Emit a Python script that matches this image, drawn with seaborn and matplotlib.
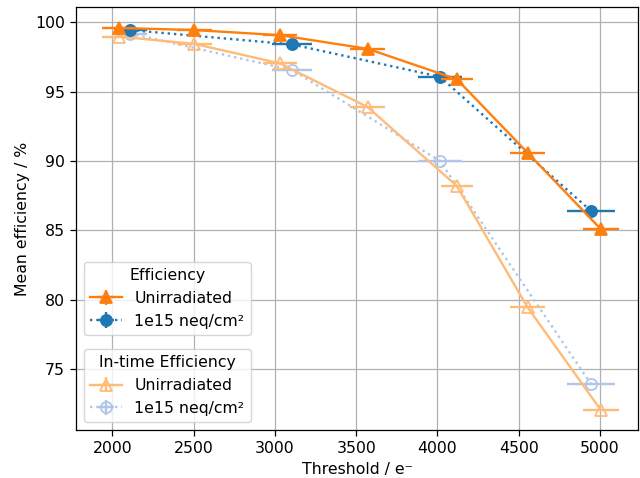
import numpy as np
import pandas as pd
import matplotlib
matplotlib.use("Agg")
import matplotlib.pyplot as plt
import seaborn as sns

# ---- data ----
thr_unirr = [2040, 2505, 3030, 3570, 4120, 4555, 5005]
thr_unirr_err = [105, 105, 103, 105, 100, 110, 110]
eff_unirr = [99.6, 99.45, 99.08, 98.1, 95.9, 90.6, 85.1]
eff_unirr_err = [0.1, 0.1, 0.1, 0.1, 0.1, 0.1, 0.1]
intime_unirr = [98.98, 98.45, 97.05, 93.9, 88.2, 79.45, 72.05]
intime_unirr_err = [0.1, 0.1, 0.1, 0.1, 0.1, 0.1, 0.1]

thr_irr = [2110, 3107, 4016, 4945]
thr_irr_err = [100, 122, 137, 150]
eff_irr = [99.45, 98.41, 96.08, 86.4]
eff_irr_err = [0.1, 0.1, 0.1, 0.1]
intime_irr = [99.2, 96.56, 90.0, 73.92]
intime_irr_err = [0.1, 0.1, 0.1, 0.1]

label_unirr = "Unirradiated"
label_irr = "1e15 neq/cm²"

FS = 11.3
plt.rcParams.update({
    "font.size": FS,
    "axes.labelsize": FS,
    "xtick.labelsize": FS,
    "ytick.labelsize": FS,
    "legend.fontsize": FS,
    "legend.title_fontsize": FS,
    "axes.linewidth": 0.9,
    "xtick.major.width": 0.9,
    "ytick.major.width": 0.9,
    "xtick.major.size": 4.0,
    "ytick.major.size": 4.0,
    "xtick.major.pad": 3.9,
    "ytick.major.pad": 3.9,
})

pal = sns.color_palette("tab20")
c_eff_unirr = pal[2]   # tab:orange
c_eff_irr = pal[0]     # tab:blue
c_it_unirr = pal[3]    # light orange
c_it_irr = pal[1]      # light blue

fig, ax = plt.subplots(figsize=(6.4, 4.78), dpi=100)
fig.subplots_adjust(left=0.119, right=0.997, bottom=0.1004, top=0.985)

LW = 1.7
series = [
    # x, xerr, y, yerr, color, marker, markersize, linestyle, filled
    (thr_irr, thr_irr_err, intime_irr, intime_irr_err, c_it_irr, "o", 8, ":", False),
    (thr_unirr, thr_unirr_err, intime_unirr, intime_unirr_err, c_it_unirr, "^", 9, "-", False),
    (thr_irr, thr_irr_err, eff_irr, eff_irr_err, c_eff_irr, "o", 8, ":", True),
    (thr_unirr, thr_unirr_err, eff_unirr, eff_unirr_err, c_eff_unirr, "^", 9, "-", True),
]

handles = []
for x, xe, y, ye, col, mk, ms, ls, filled in series:
    df = pd.DataFrame({"x": x, "y": y})
    ax.errorbar(x, y, xerr=xe, yerr=ye, fmt="none", ecolor=col,
                elinewidth=LW, capsize=0)
    sns.lineplot(data=df, x="x", y="y", ax=ax, color=col, linestyle=ls,
                 linewidth=LW, marker=mk, markersize=ms,
                 markerfacecolor=col if filled else "none",
                 markeredgecolor=col, markeredgewidth=1.3,
                 sort=False, estimator=None, legend=False)
    # legend proxy (errorbar container, no visible data)
    h = ax.errorbar([np.nan], [np.nan], xerr=[1], yerr=[1], color=col,
                    linestyle=ls, linewidth=LW, marker=mk, markersize=ms,
                    markerfacecolor=col if filled else "none",
                    markeredgecolor=col, markeredgewidth=1.3,
                    elinewidth=LW, capsize=0)
    handles.append(h)

h_it_irr, h_it_unirr, h_eff_irr, h_eff_unirr = handles

ax.set_xlim(1777, 5235)
ax.set_ylim(70.6, 101.1)
ax.set_xticks([2000, 2500, 3000, 3500, 4000, 4500, 5000])
ax.set_yticks([75, 80, 85, 90, 95, 100])
ax.grid(True, color="#b0b0b0", linewidth=0.9)
ax.set_axisbelow(True)
ax.set_xlabel("Threshold / e\u207b")
ax.set_ylabel("Mean efficiency / %")

leg1 = ax.legend([h_eff_unirr, h_eff_irr], [label_unirr, label_irr],
                 title="Efficiency", loc="lower left",
                 bbox_to_anchor=(0.0, 0.206))
ax.add_artist(leg1)
ax.legend([h_it_unirr, h_it_irr], [label_unirr, label_irr],
          title="In-time Efficiency", loc="lower left")

fig.savefig("out.png", dpi=100)
